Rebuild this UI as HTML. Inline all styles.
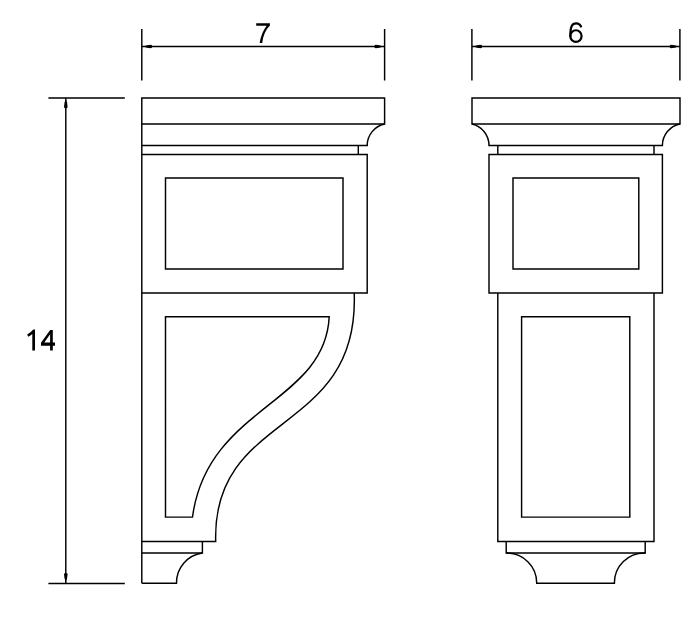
<!DOCTYPE html>
<html><head><meta charset="utf-8"><style>
html,body{margin:0;padding:0;background:#fff;width:700px;height:617px;overflow:hidden}
svg{display:block}
</style></head><body>
<svg width="700" height="617" viewBox="0 0 700 617">
<g fill="none" stroke="#000" stroke-width="1.45">
<path d="M141.8,29 V80.5 M384.6,29 V80.5 M141.8,46.5 H384.6"/>
<path d="M48.4,98 H124.8 M48.4,583.4 H124.8 M65.8,98 V583.4"/>
<path d="M471.9,29 V80.5 M679.9,29 V80.5 M471.9,46.5 H679.9"/>
<path d="M141.8,98 H384.6 V124 H141.8 Z"/>
<path d="M141.8,124 V583.3"/>
<path d="M384.6,124 A22,22 0 0 0 367.2,145.4 H141.8"/>
<path d="M358.3,145.4 V154.4"/>
<path d="M141.8,154.4 H367.2 V292.9 H141.8"/>
<path d="M165.5,178 H343 V268.9 H165.5 Z"/>
<path d="M354.2,292.9 C359.76,436.37 211.88,409.92 215.7,541.5 H141.8"/>
<path d="M165.5,517.1 V316.8 H329.2 C325,403.98 207.2,406.25 192.5,517.1 Z"/>
<path d="M202.4,541.5 V553 H141.8"/>
<path d="M202.4,553 A30,30 0 0 0 176.5,583.3 H141.8"/>
<path d="M472,98 H680 V124 H472 Z"/>
<path d="M472,124 A22,22 0 0 1 489,145.4 H662.4 A22,22 0 0 1 680,124"/>
<path d="M497.8,145.4 V154.4 M654,145.4 V154.4"/>
<path d="M489,154.4 H662.4 V292.9 H489 Z"/>
<path d="M513,178 H638.8 V268.9 H513 Z"/>
<path d="M497.8,292.9 V541.5 H654 V292.9"/>
<path d="M521.6,316.8 H629.8 V517.1 H521.6 Z"/>
<path d="M506.2,541.5 V553 H645.2 V541.5"/>
<path d="M506.2,553 A30,30 0 0 1 536.7,583.3 H614.4 A30,30 0 0 1 645.2,553"/>
</g>
<g fill="#000" stroke="none">
<path d="M143.50,46.5 L147.10,45.25 L150.80,44.70 Q152.20,44.70 152.20,46.5 Q152.20,48.30 150.80,48.30 L147.10,47.75 Z"/>
<path d="M383.00,46.5 L379.40,45.25 L375.70,44.70 Q374.30,44.70 374.30,46.5 Q374.30,48.30 375.70,48.30 L379.40,47.75 Z"/>
<path d="M473.50,46.5 L477.10,45.25 L480.80,44.70 Q482.20,44.70 482.20,46.5 Q482.20,48.30 480.80,48.30 L477.10,47.75 Z"/>
<path d="M678.30,46.5 L674.70,45.25 L671.00,44.70 Q669.60,44.70 669.60,46.5 Q669.60,48.30 671.00,48.30 L674.70,47.75 Z"/>
<path d="M65.8,99.00 L64.55,102.60 L64.00,107.00 Q64.00,108.40 65.8,108.40 Q67.60,108.40 67.60,107.00 L67.05,102.60 Z"/>
<path d="M65.8,581.80 L64.55,578.20 L64.00,574.40 Q64.00,573.00 65.8,573.00 Q67.60,573.00 67.60,574.40 L67.05,578.20 Z"/>
<path d="M256.2,23.2 H269.9 V25.6 Q263.6,31.8 262.2,43 H259.6 Q261.3,32.5 266.7,25.7 H256.2 Z"/>
<path d="M33.3,329.4 H35 V350.4 H32.3 V333.9 Q30.5,335.4 28.2,336.8 L27.2,334.5 Q30.8,332.4 33.3,329.4 Z"/>
<path fill-rule="evenodd" d="M50.2,330 H52.8 V342.4 H55 V345.7 H52.8 V350.4 H50.1 V345.7 H41 V342.7 Z M50.1,334.3 V342.4 H44.3 Z"/>
</g>
<g fill="none" stroke="#000" stroke-width="2.2">
<ellipse cx="575.95" cy="36.05" rx="5.65" ry="5.8"/>
<path d="M570.3,37 C570.2,25.8 572.3,23.4 576.1,23.4 C578.9,23.4 580.5,25 581.3,27.3"/>
</g>
</svg>
</body></html>
